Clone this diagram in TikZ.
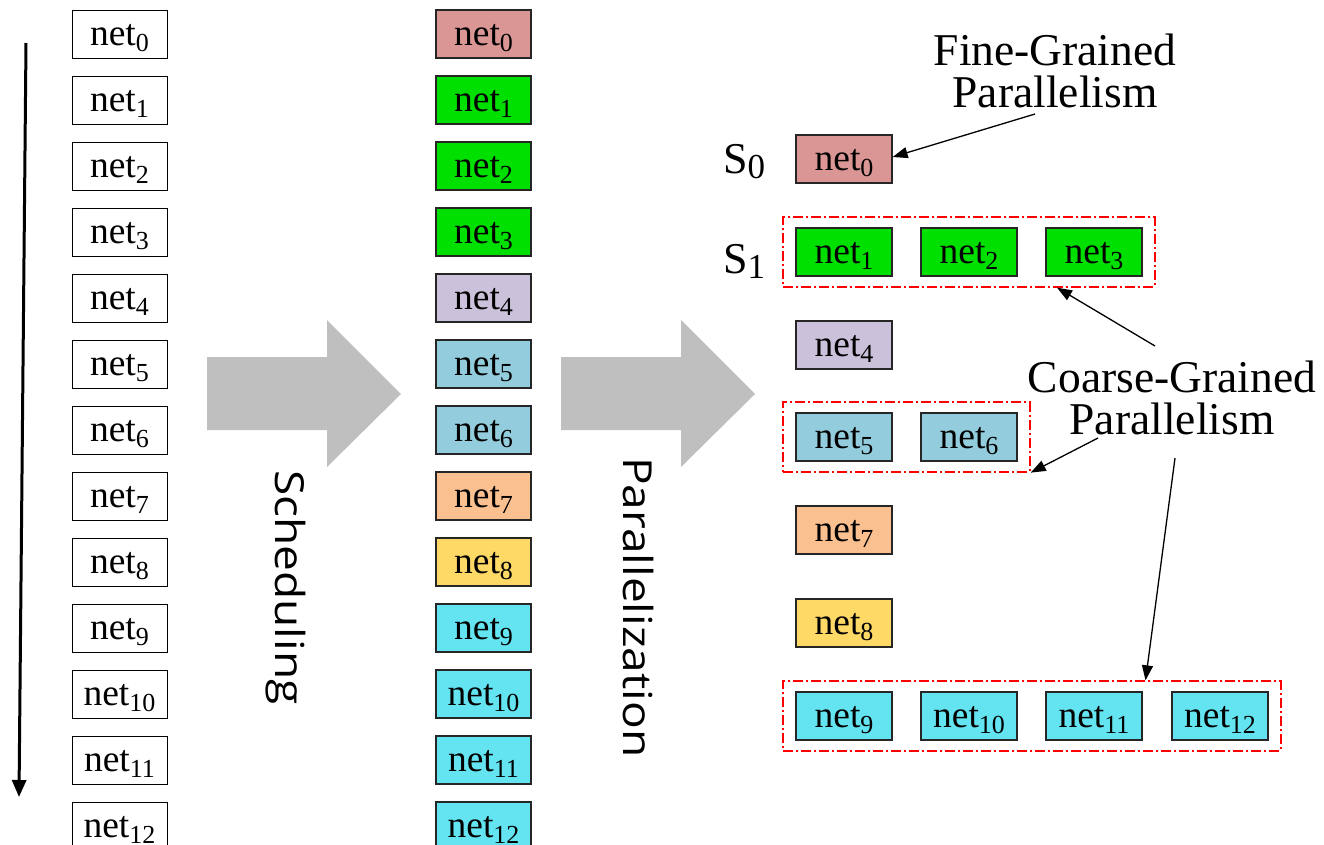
\documentclass[tikz,border=0pt]{standalone}
\usepackage{fontspec}
\setmainfont{Liberation Serif}
\newfontfamily\labsans{Open Sans}
\usetikzlibrary{arrows.meta,fit,calc}
\definecolor{cRose}{HTML}{D99694}
\definecolor{cGreen}{RGB}{0,224,0}
\definecolor{cLav}{HTML}{CCC1DA}
\definecolor{cBlue}{HTML}{93CDDD}
\definecolor{cPeach}{HTML}{FAC090}
\definecolor{cYellow}{HTML}{FFD966}
\definecolor{cCyan}{HTML}{64E3F1}
\definecolor{cGrey}{HTML}{BFBFBF}
\newcommand\nsub[1]{\raisebox{-0.17em}{\fontsize{26}{26}\selectfont #1}}
\newcommand\netl[1]{net\nsub{#1}}
\begin{document}
\begin{tikzpicture}[x=1pt,y=-1pt,
  plainbox/.style={draw=black,line width=1pt,minimum width=95pt,minimum height=48pt,
    inner sep=0pt,text height=28pt,text depth=6pt,font=\fontsize{37.5}{40}\selectfont},
  cbox/.style={plainbox,draw=black!85,line width=1.3pt,fill=#1},
  rbox/.style={cbox=#1,minimum width=96pt},
  grp/.style={draw=red,line width=2pt,dash pattern=on 10pt off 3pt on 2pt off 3pt,
    inner xsep=12pt,inner ysep=10pt},
  conn/.style={line width=1.3pt,-{Triangle[length=15pt,width=11pt]}},
  biglab/.style={align=center,inner sep=0pt,font=\fontsize{45.5}{42.5}\selectfont},
  slab/.style={anchor=base west,inner sep=0pt,font=\fontsize{44}{44}\selectfont},
  vlab/.style={rotate=-90,anchor=base west,inner sep=0pt},
  bigarrow/.style={fill=cGrey,draw=none}]
\useasboundingbox (0,0) rectangle (1324,844);

% left column
\foreach \i in {0,...,12}
  \node[plainbox] (L\i) at (119.5,{34+66*\i}) {\netl{\i}};
\coordinate (la0) at (26,43);
\coordinate (la1) at (19,797);
\draw[line width=3pt,-{Triangle[length=17pt,width=14pt]}] (la0) -- (la1);

% middle column
\foreach \i/\c in {0/cRose,1/cGreen,2/cGreen,3/cGreen,4/cLav,5/cBlue,6/cBlue,7/cPeach,
                   8/cYellow,9/cCyan,10/cCyan,11/cCyan,12/cCyan}
  \node[cbox=\c] (M\i) at (483.5,{34+66*\i}) {\netl{\i}};

% big grey arrows
\fill[bigarrow] (207,357) -- (327,357) -- (327,320) -- (401,394) -- (327,467) -- (327,430) -- (207,430) -- cycle;
\fill[bigarrow] (561,357) -- (681,357) -- (681,320) -- (755,394) -- (681,467) -- (681,430) -- (561,430) -- cycle;
\node[vlab] (sched) at (275,470) {\scalebox{1.15}[1]{\labsans\fontsize{40}{40}\selectfont Scheduling}};
\node[vlab] (par) at (623,457) {\scalebox{1.15}[1]{\labsans\fontsize{40}{40}\selectfont Parallelization}};

% right column
\node[rbox=cRose] (R0) at (844,159) {\netl{0}};
\node[rbox=cGreen] (R1) at (844,252) {\netl{1}};
\node[rbox=cGreen] (R2) at (969,252) {\netl{2}};
\node[rbox=cGreen] (R3) at (1094,252) {\netl{3}};
\node[rbox=cLav] (R4) at (844,345) {\netl{4}};
\node[rbox=cBlue] (R5) at (844,437) {\netl{5}};
\node[rbox=cBlue] (R6) at (969,437) {\netl{6}};
\node[rbox=cPeach] (R7) at (844,530) {\netl{7}};
\node[rbox=cYellow] (R8) at (844,623) {\netl{8}};
\node[rbox=cCyan] (R9) at (844,716) {\netl{9}};
\node[rbox=cCyan] (R10) at (969,716) {\netl{10}};
\node[rbox=cCyan] (R11) at (1094,716) {\netl{11}};
\node[rbox=cCyan] (R12) at (1220,716) {\netl{12}};

\node[grp,fit=(R1)(R3)] (g1) {};
\node[grp,fit=(R5)(R6)] (g2) {};
\node[grp,fit=(R9)(R12)] (g3) {};

\node[slab] (s0) at (723,173) {S\raisebox{-0.13em}{\fontsize{35}{35}\selectfont 0}};
\node[slab] (s1) at (723,273) {S\raisebox{-0.13em}{\fontsize{35}{35}\selectfont 1}};

% annotations
\node[biglab] (fine) at (1055,71) {Fine-Grained\\Parallelism};
\node[biglab] (coarse) at (1172,398) {Coarse-Grained\\Parallelism};

\coordinate (f0) at (1035,114);
\draw[conn] (f0) -- ([yshift=2pt]R0.east);
\coordinate (c1) at (1155,346);
\draw[conn] (c1) -- ([xshift=88pt]g1.south);
\coordinate (c2) at (1098,438);
\draw[conn] (c2) -- (g2.south east);
\coordinate (c3) at (1175,458);
\draw[conn] (c3) -- ([xshift=113.5pt]g3.north);
\end{tikzpicture}
\end{document}
